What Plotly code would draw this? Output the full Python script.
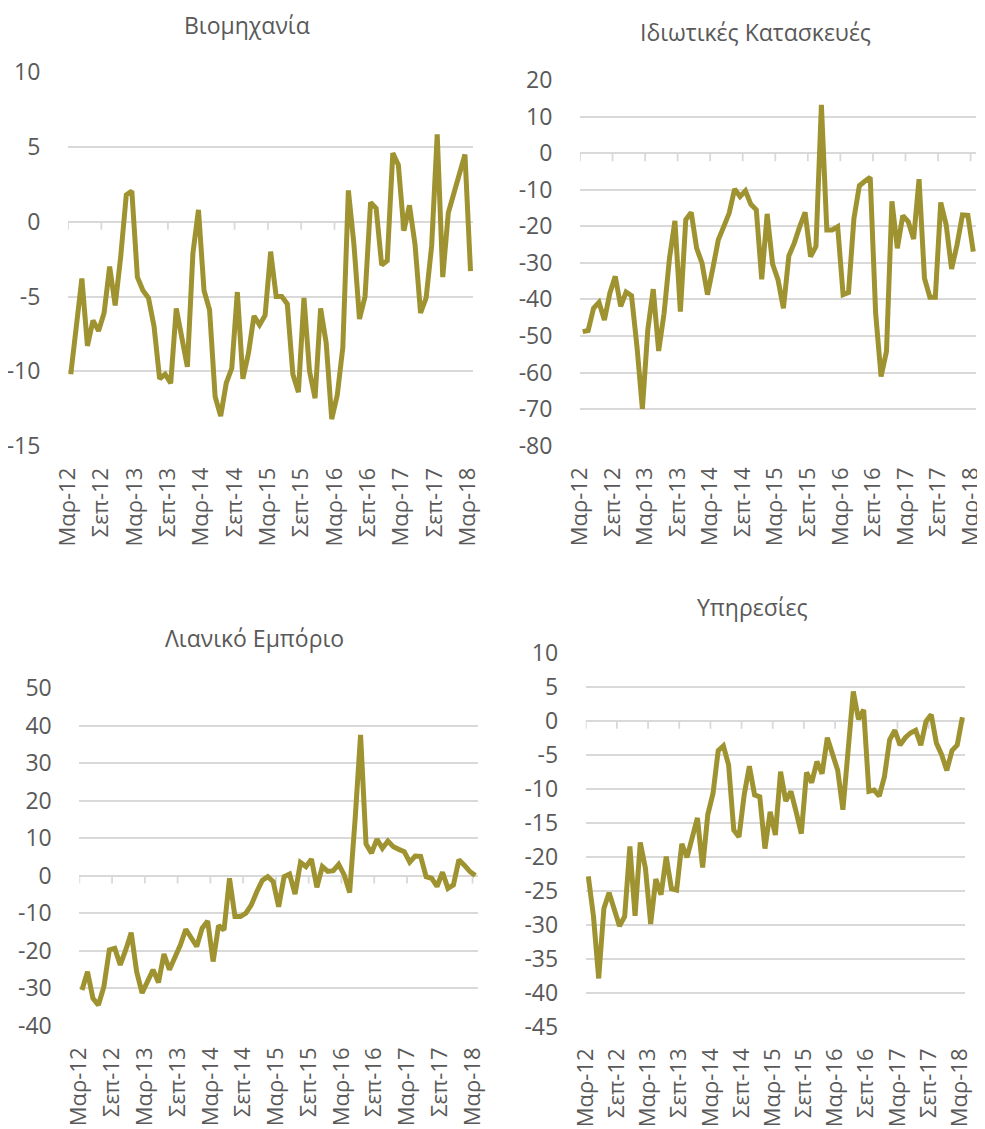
import plotly.graph_objects as go

# The page body adds an 8px margin at top-left, so the figure is offset by it
OFF = 8
W, H = 985 - OFF, 1129 - OFF

# ---- data (monthly, Mar-12 .. Mar-18) ----
industry = [-10.2, -7.2, -3.8, -8.3, -6.6, -7.3, -6.1, -3.0, -5.6, -2.3,
            1.8, 2.05, -3.7, -4.6, -5.1, -7.0, -10.5, -10.2, -10.8, -5.8,
            -7.8, -9.7, -2.1, 0.8, -4.6, -5.9, -11.7, -13.0, -10.8, -9.8,
            -4.7, -10.5, -8.8, -6.3, -6.9, -6.25, -2.0, -5.0, -5.0, -5.5,
            -10.2, -11.4, -5.1, -10.0, -11.8, -5.8, -8.1, -13.2, -11.6, -8.4,
            2.1, -1.5, -6.5, -5.0, 1.3, 0.9, -2.9, -2.6, 4.6, 3.8,
            -0.6, 1.1, -1.5, -6.1, -5.1, -1.6, 5.85, -3.7, 0.6, 1.9,
            3.3, 4.5, -3.3]

construction = [-48.8, -48.5, -42.4, -40.8, -45.6, -38.3, -33.7, -41.9, -38.0, -39.0,
                -52.9, -69.9, -48.3, -37.2, -54.1, -43.8, -28.7, -18.5, -43.3, -18.2,
                -16.2, -26.0, -30.1, -38.7, -31.4, -23.7, -20.1, -16.4, -9.8, -11.9,
                -10.3, -14.0, -15.5, -34.5, -16.6, -30.3, -34.6, -42.4, -28.1, -24.6,
                -20.1, -16.2, -28.3, -25.5, 13.2, -21.0, -21.0, -20.1, -38.7, -38.1,
                -17.8, -8.9, -7.7, -6.6, -43.8, -61.1, -54.2, -13.2, -26.0, -17.1,
                -18.7, -23.5, -7.1, -34.2, -39.4, -39.4, -13.5, -19.6, -31.7, -25.1,
                -16.9, -17.0, -26.9]

retail = [-30.5, -25.6, -32.7, -34.5, -29.6, -19.8, -19.4, -23.8, -19.8, -15.2,
          -25.6, -31.3, -28.2, -25.1, -28.5, -20.9, -25.1, -22.0, -18.5, -14.3,
          -16.5, -18.9, -14.0, -12.1, -22.9, -13.3, -14.5, -0.7, -10.9, -10.9,
          -10.0, -7.8, -4.3, -1.3, -0.3, -1.6, -8.3, -0.3, 0.4, -4.9,
          3.5, 2.4, 4.4, -3.1, 2.4, 1.1, 1.3, 3.0, 0.2, -4.5,
          15.0, 37.5, 8.4, 6.0, 9.7, 7.3, 9.2, 7.7, 7.0, 6.4,
          3.6, 5.2, 5.1, -0.3, -0.7, -2.9, 0.9, -3.4, -2.5, 4.2,
          2.8, 1.1, 0.0]

services = [-22.9, -28.8, -37.9, -27.6, -25.3, -27.6, -30.2, -28.8, -18.5, -28.7,
            -17.9, -21.7, -29.9, -23.3, -25.6, -20.0, -24.7, -24.9, -18.1, -20.1,
            -17.0, -14.3, -21.6, -13.8, -10.7, -4.4, -3.7, -6.5, -16.1, -17.1,
            -10.9, -6.7, -10.9, -11.2, -18.8, -13.4, -16.8, -7.5, -11.8, -10.4,
            -13.4, -16.6, -7.6, -9.1, -6.0, -7.8, -2.5, -5.0, -7.3, -13.1,
            -4.3, 4.3, 0.2, 1.6, -10.4, -10.2, -11.1, -8.2, -2.8, -1.4,
            -3.6, -2.5, -1.8, -1.4, -3.6, -0.1, 0.9, -3.3, -5.0, -7.3,
            -4.4, -3.6, 0.5]

tick_labels = ["Μαρ-12", "Σεπ-12", "Μαρ-13", "Σεπ-13", "Μαρ-14", "Σεπ-14", "Μαρ-15",
               "Σεπ-15", "Μαρ-16", "Σεπ-16", "Μαρ-17", "Σεπ-17", "Μαρ-18"]
titles = ["Βιομηχανία", "Ιδιωτικές Κατασκευές", "Λιανικό Εμπόριο", "Υπηρεσίες"]

months = list(range(len(industry)))
tick_pos = [6 * k - 0.5 for k in range(len(tick_labels))]

# ---- styling / layout ----
LINE = "#9E9330"
GRID = "#D9D9D9"
TXT = "#595959"
FONT = "Open Sans"
FS = 23
FSX = 22

panels = [
    # series, (x0,x1) px, (ytop,ybot) px, yrange, dtick, title center (x,y) px  [page pixels]
    (industry, (68, 473.3), (72.3, 446), (-15, 10), 5, (247, 25)),
    (construction, (580, 976), (80, 445.7), (-80, 20), 10, (755, 32)),
    (retail, (79.3, 478), (688, 1025.7), (-40, 50), 10, (255, 638)),
    (services, (585.7, 965), (652.7, 1026.7), (-45, 10), 5, (752, 607)),
]


def fx(px):
    return (px - OFF) / W


def fy(py):
    return 1 - (py - OFF) / H


fig = go.Figure()
layout = dict(
    width=W, height=H,
    margin=dict(l=0, r=0, t=0, b=0),
    paper_bgcolor="white", plot_bgcolor="white",
    showlegend=False,
    font=dict(family=FONT, size=FS, color=TXT),
    annotations=[], shapes=[],
)

for k, (ser, (px0, px1), (pyt, pyb), yr, dt, (tx, ty)) in enumerate(panels):
    n = "" if k == 0 else str(k + 1)
    xa, ya = "x" + n, "y" + n
    fig.add_trace(go.Scatter(
        x=months, y=ser, mode="lines", xaxis=xa, yaxis=ya,
        line=dict(color=LINE, width=5), hoverinfo="skip",
    ))
    yvals = list(range(yr[0], yr[1] + 1, dt))
    layout["xaxis" + n] = dict(
        domain=[fx(px0), fx(px1)], anchor=ya,
        range=[-0.5, 72.5],
        tickmode="array", tickvals=tick_pos, ticktext=tick_labels,
        tickangle=-90, ticks="outside", ticklen=12, tickcolor="rgba(0,0,0,0)",
        tickfont=dict(family=FONT, size=FSX, color=TXT),
        ticklabeloverflow="allow",
        showgrid=False, zeroline=False, showline=False, automargin=False,
        fixedrange=True,
    )
    layout["yaxis" + n] = dict(
        domain=[fy(pyb), fy(pyt)], anchor=xa,
        range=list(yr),
        tickmode="array", tickvals=yvals, ticktext=[str(v) for v in yvals],
        ticks="outside", ticklen=22, tickcolor="rgba(0,0,0,0)",
        tickfont=dict(family=FONT, size=FS, color=TXT),
        ticklabeloverflow="allow",
        showgrid=True, gridcolor=GRID, gridwidth=1.8,
        zeroline=True, zerolinecolor=GRID, zerolinewidth=2,
        showline=False, automargin=False, fixedrange=True,
    )
    # small vertical tick marks hanging from the zero line
    for tp in tick_pos:
        layout["shapes"].append(dict(
            type="line", xref=xa, yref=ya, ysizemode="pixel", yanchor=0,
            x0=tp, x1=tp, y0=0, y1=-8,
            line=dict(color=GRID, width=1.8), layer="below",
        ))
    layout["annotations"].append(dict(
        text=titles[k], xref="paper", yref="paper",
        x=fx(tx), y=fy(ty), xanchor="center", yanchor="middle",
        showarrow=False, font=dict(family=FONT, size=FS, color=TXT),
    ))

fig.update_layout(**layout)
fig.write_html("out.html")
